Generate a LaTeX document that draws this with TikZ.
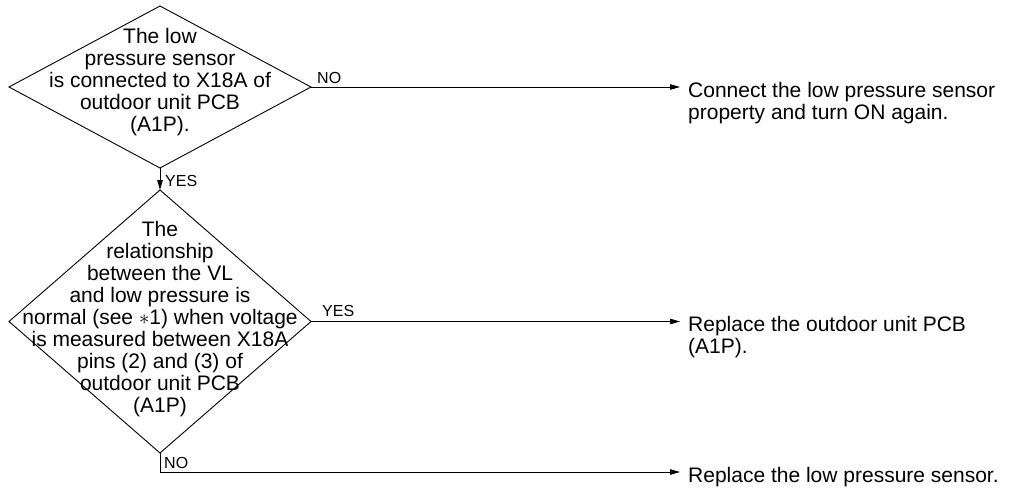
\documentclass[tikz,border=0pt]{standalone}
\usepackage{fontspec}
\setmainfont{Liberation Sans}
\usetikzlibrary{shapes.geometric,arrows.meta}
\begin{document}
\begin{tikzpicture}[x=1pt,y=-1pt,
  dia/.style={draw, diamond, line width=0.9pt, inner sep=0pt, outer sep=0pt},
  qtext/.style={align=center, inner sep=0pt, font=\fontsize{21}{22}\selectfont},
  atext/.style={align=left, inner sep=0pt, anchor=north west, font=\fontsize{21}{22}\selectfont},
  lab/.style={inner sep=0pt, anchor=base west, font=\fontsize{16}{18}\selectfont},
  conn/.style={line width=0.9pt},
  arr/.style={conn, -{Triangle[length=10pt,width=5.5pt]}}]
\useasboundingbox (0,0) rectangle (1016,487);
\node[dia, minimum width=302pt, minimum height=162pt] (d1) at (160,87) {};
\node[qtext] (t1) at (160,82.5) {The low\\pressure sensor\\is connected to X18A of\\outdoor unit PCB\\(A1P).};
\node[dia, minimum width=302pt, minimum height=263pt] (d2) at (160,321.5) {};
\node[qtext] (t2) at (160,319) {The\\relationship\\between the VL\\and low pressure is\\normal (see $\ast$1) when voltage\\is measured between X18A\\pins (2) and (3) of\\outdoor unit PCB\\(A1P)};
\coordinate (e1) at (680,87);
\coordinate (e2) at (680,321.5);
\coordinate (e3) at (680,472);
\node[atext] (r1) at (688,82) {Connect the low pressure sensor\\property and turn ON again.};
\node[atext] (r2) at (688,316.5) {Replace the outdoor unit PCB\\(A1P).};
\node[atext] (r3) at (688,467) {Replace the low pressure sensor.};
\draw[arr] (d1.east) -- (e1);
\draw[arr] (d1.south) -- (d2.north);
\draw[arr] (d2.east) -- (e2);
\draw[arr] (d2.south) |- (e3);
\node[lab] (l1) at (317,83) {NO};
\node[lab] (l2) at (165,186) {YES};
\node[lab] (l3) at (322,316) {YES};
\node[lab] (l4) at (164,468) {NO};
\end{tikzpicture}
\end{document}
